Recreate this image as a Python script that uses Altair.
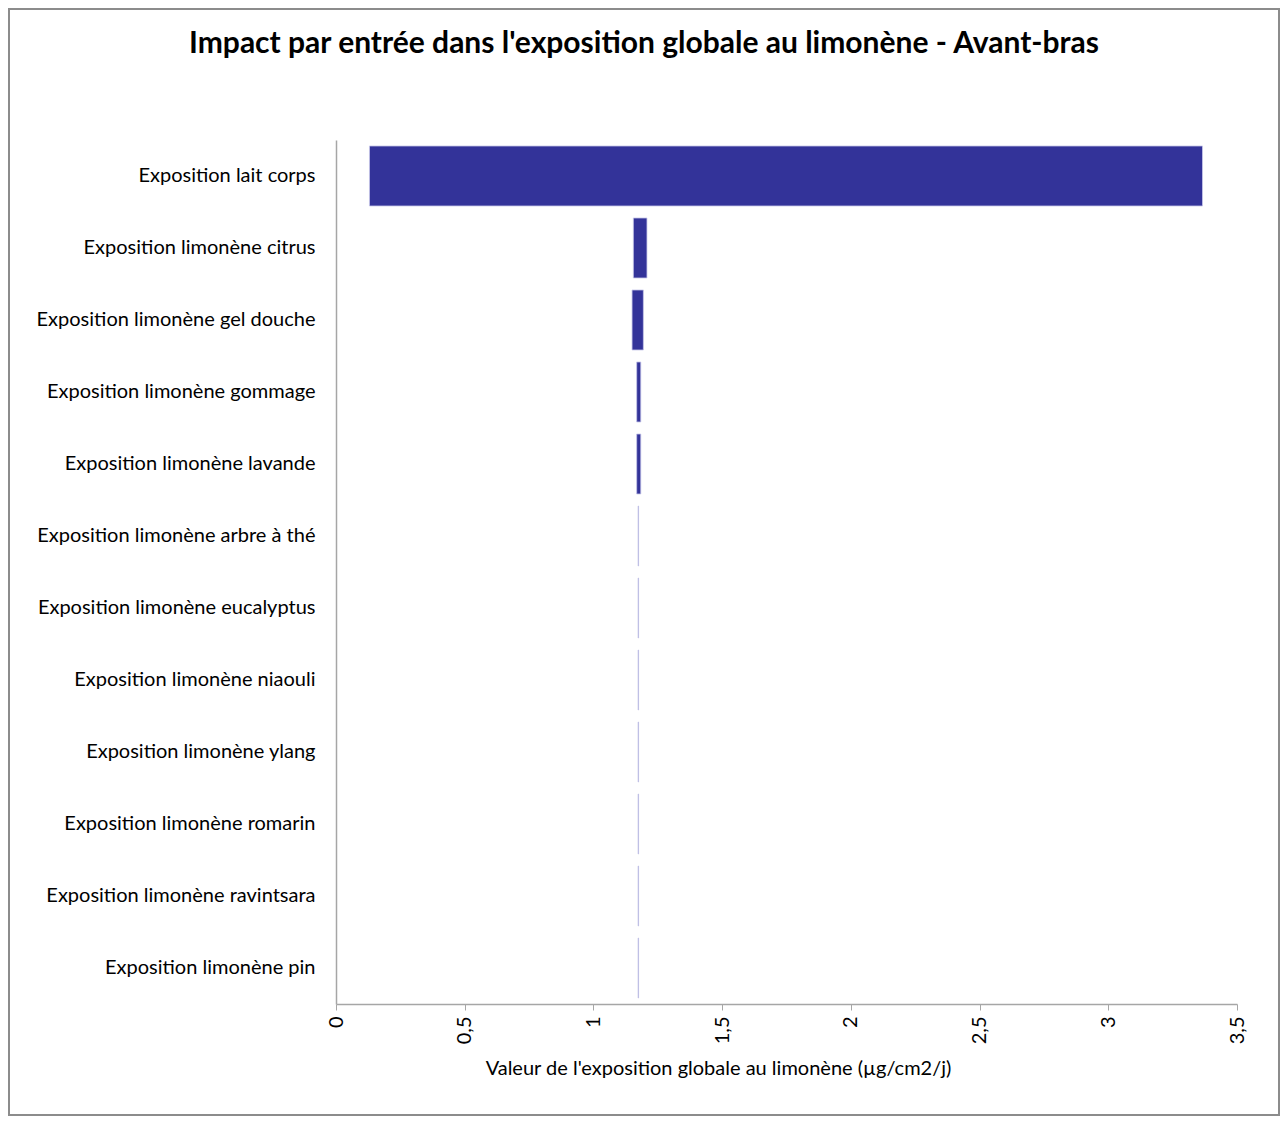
import altair as alt
import pandas as pd

title = "Impact par entrée dans l'exposition globale au limonène - Avant-bras"
x_title = "Valeur de l'exposition globale au limonène (µg/cm2/j)"

categories = [
    "Exposition lait corps",
    "Exposition limonène citrus",
    "Exposition limonène gel douche",
    "Exposition limonène gommage",
    "Exposition limonène lavande",
    "Exposition limonène arbre à thé",
    "Exposition limonène eucalyptus",
    "Exposition limonène niaouli",
    "Exposition limonène ylang",
    "Exposition limonène romarin",
    "Exposition limonène ravintsara",
    "Exposition limonène pin",
]
low_values = [0.130, 1.155, 1.150, 1.168, 1.168, 1.1735, 1.1735, 1.1735, 1.1735, 1.1735, 1.1735, 1.1735]
high_values = [3.366, 1.208, 1.194, 1.184, 1.184, 1.1755, 1.1755, 1.1755, 1.1755, 1.1755, 1.1755, 1.1755]
x_ticks = [0, 0.5, 1, 1.5, 2, 2.5, 3, 3.5]

df = pd.DataFrame({"cat": categories, "low": low_values, "high": high_values})

FONT = "Lato"
W, H = 901, 864
PL, PT = 328, 132
TOTAL_W, TOTAL_H = 1272, 1108

bars = alt.Chart(df).mark_bar(color="#333399", stroke="#c8c8ea", strokeWidth=0.8).encode(
    y=alt.Y("cat:N", sort=categories,
            scale=alt.Scale(paddingInner=0.1667, paddingOuter=0.0833),
            axis=alt.Axis(title=None, ticks=False, labelFontSize=20, labelFont=FONT,
                          labelColor="#000000", labelPadding=21, domainColor="#a6a6a6",
                          domainWidth=1.5, labelLimit=400)),
    x=alt.X("low:Q", scale=alt.Scale(domain=[0, 3.5], nice=False, zero=True),
            axis=alt.Axis(title=x_title, values=x_ticks, grid=False,
                          labelExpr="replace(toString(datum.value), '.', ',')",
                          labelAngle=270, labelFontSize=20, labelFont=FONT, labelColor="#000000",
                          labelPadding=6, tickSize=6, tickColor="#a6a6a6", domainColor="#a6a6a6",
                          domainWidth=1.5, titleFont=FONT, titleFontSize=20,
                          titleFontWeight="normal", titleColor="#000000",
                          titleX=382, titleY=54, titleBaseline="top", titleAnchor="middle")),
    x2="high:Q",
)

title_mark = alt.Chart(pd.DataFrame({"t": [title]})).mark_text(
    font=FONT, fontSize=30, fontWeight="bold", color="#000000", align="center", baseline="middle"
).encode(x=alt.value(308), y=alt.value(-96), text="t:N")

border = alt.Chart(pd.DataFrame({"a": [0]})).mark_rect(
    fill=None, stroke="#8c8c8c", strokeWidth=2
).encode(x=alt.value(-PL + 1), x2=alt.value(TOTAL_W - PL - 1),
         y=alt.value(-PT + 1), y2=alt.value(TOTAL_H - PT - 1))

chart = alt.layer(border, bars, title_mark).properties(
    width=W, height=H,
    background="#ffffff",
    autosize=alt.AutoSizeParams(type="none"),
    padding={"left": PL, "top": PT, "right": TOTAL_W - PL - W, "bottom": TOTAL_H - PT - H},
).configure_view(stroke=None)

chart.save("out.html", embed_options={"renderer": "svg", "actions": False})
